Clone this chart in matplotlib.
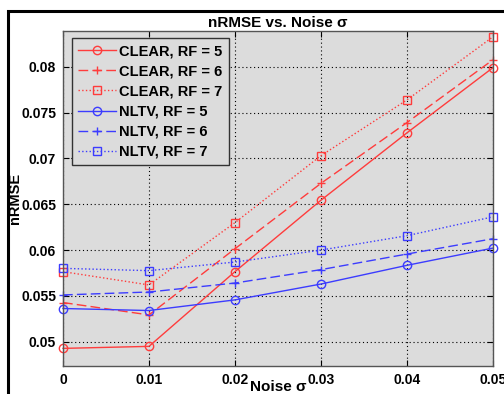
import matplotlib

matplotlib.use("Agg")

import matplotlib.pyplot as plt
from matplotlib.patches import Rectangle

noise = [0.0, 0.01, 0.02, 0.03, 0.04, 0.05]

clear_rf5 = [0.04928, 0.0495, 0.05765, 0.06544, 0.07279, 0.0799]
clear_rf6 = [0.05428, 0.05293, 0.06015, 0.06728, 0.07391, 0.08076]
clear_rf7 = [0.05765, 0.0562, 0.0630, 0.0703, 0.07638, 0.08326]
nltv_rf5 = [0.05363, 0.05341, 0.05457, 0.0563, 0.05834, 0.06022]
nltv_rf6 = [0.05511, 0.05543, 0.05641, 0.05787, 0.05957, 0.06124]
nltv_rf7 = [0.05801, 0.05776, 0.0587, 0.0600, 0.06157, 0.06363]

labels = [
    "CLEAR, RF = 5", "CLEAR, RF = 6", "CLEAR, RF = 7",
    "NLTV, RF = 5", "NLTV, RF = 6", "NLTV, RF = 7",
]
x_ticks = [0, 0.01, 0.02, 0.03, 0.04, 0.05]
x_ticklabels = ["0", "0.01", "0.02", "0.03", "0.04", "0.05"]
y_ticks = [0.05, 0.055, 0.06, 0.065, 0.07, 0.075, 0.08]
y_ticklabels = ["0.05", "0.055", "0.06", "0.065", "0.07", "0.075", "0.08"]

RED = "#ff3c3c"
BLUE = "#3c3cff"

plt.rcParams["font.family"] = ["Liberation Sans", "DejaVu Sans"]
plt.rcParams["font.weight"] = "bold"

fig = plt.figure(figsize=(5.04, 3.94), dpi=100)
fig.patch.set_facecolor("white")
ax = fig.add_axes([0.125, 0.0711, 0.853, 0.8502])
ax.set_facecolor("#dcdcdc")

styles = [
    (clear_rf5, RED, "-", "o"),
    (clear_rf6, RED, (0, (7, 3)), "+"),
    (clear_rf7, RED, ":", "s"),
    (nltv_rf5, BLUE, "-", "o"),
    (nltv_rf6, BLUE, (0, (7, 3)), "+"),
    (nltv_rf7, BLUE, ":", "s"),
]
for (vals, color, ls, mk), label in zip(styles, labels):
    ax.plot(noise, vals, color=color, linestyle=ls, linewidth=1.0,
            marker=mk, markersize=6 if mk != "s" else 5.5,
            markerfacecolor="none", markeredgecolor=color,
            markeredgewidth=1.0, label=label, clip_on=False)

ax.set_xlim(0, 0.05)
ax.set_ylim(0.04736, 0.0839)
ax.set_xticks(x_ticks)
ax.set_xticklabels(x_ticklabels)
ax.set_yticks(y_ticks)
ax.set_yticklabels(y_ticklabels)
ax.tick_params(direction="in", top=True, right=True, length=4,
               labelsize=10, colors="black", pad=5)
ax.grid(True, color="black", linestyle=(0, (1, 2.5)), linewidth=0.8)
for spine in ax.spines.values():
    spine.set_color("#555555")
    spine.set_linewidth(1.0)

ax.set_title("nRMSE vs. Noise σ", fontsize=11, fontweight="bold", pad=3)
ax.set_xlabel("Noise σ", fontsize=11, fontweight="bold", labelpad=-5)
ax.set_ylabel("nRMSE", fontsize=10.5, fontweight="bold", labelpad=-1)

leg = ax.legend(loc="upper left", bbox_to_anchor=(0.02, 0.98),
                fontsize=10.5, fancybox=False, framealpha=1.0,
                facecolor="#dcdcdc", edgecolor="#333333",
                handlelength=2.6, handletextpad=0.2, labelspacing=0.42,
                borderpad=0.45, borderaxespad=0)
leg.get_frame().set_linewidth(1.0)

# black frame around the figure, cut off at right and bottom
fig.patches.append(Rectangle((7.5 / 504, -0.2), 2.0, 1.2 - 10.5 / 394,
                             transform=fig.transFigure, fill=False,
                             edgecolor="black", linewidth=2.2))

fig.savefig("out.png", dpi=100)
